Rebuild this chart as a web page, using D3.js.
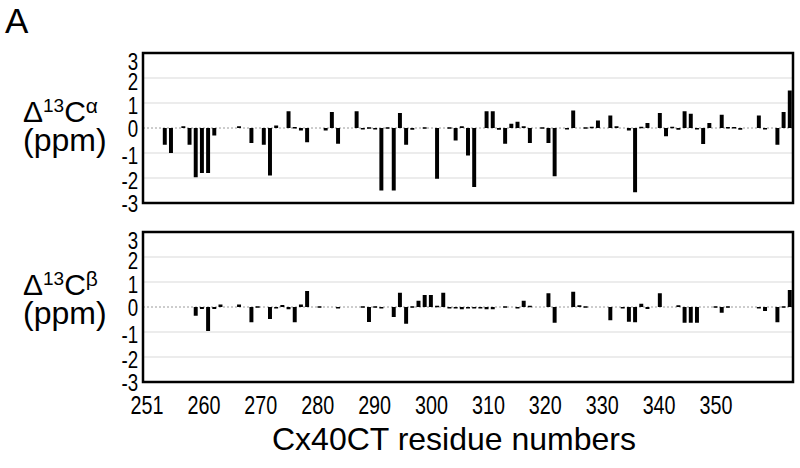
<!DOCTYPE html>
<html>
<head>
<meta charset="utf-8">
<script src="https://cdn.jsdelivr.net/npm/d3@7/dist/d3.min.js"></script>
<style>
  body { margin: 0; background: #fff; }
  svg text { font-family: "Liberation Sans", Arial, sans-serif; fill: #000; }
</style>
</head>
<body>
<svg id="chart" width="800" height="468"></svg>
<script>
// residue numbers, one bar slot each
var residues = d3.range(254, 359);

// chemical shift differences, ppm
var dCalpha = [
  0, 0, 0, -0.67, -1.0, 0, 0.07, -0.67, -1.97, -1.8,
  -1.8, -0.3, 0, 0, 0, 0.07, 0, -0.6, 0, -0.67,
  -1.9, 0.1, 0, 0.67, 0.04, -0.1, -0.57, 0, 0, -0.1,
  0.64, -0.63, 0, 0, 0.67, -0.03, 0.03, -0.03, -2.5, 0.03,
  -2.5, 0.6, -0.67, -0.07, 0, 0.03, 0, -2.03, 0, 0.03,
  -0.5, 0.07, -1.1, -2.36, 0, 0.67, 0.67, -0.07, -0.63, 0.17,
  0.25, 0.07, -0.6, 0, 0.03, -0.6, -1.93, 0, -0.03, 0.7,
  0, 0.03, 0.05, 0.3, 0, 0.5, 0.07, 0, -0.1, -2.57,
  0.05, 0.2, 0, 0.6, -0.33, 0.05, -0.07, 0.67, 0.57, -0.03,
  -0.64, 0.2, 0, 0.53, 0.04, 0.04, -0.07, 0, 0, 0.5,
  -0.05, 0, -0.67, 0.64, 1.5
];

var dCbeta = [
  0, 0, 0, 0, 0, 0, 0, 0, -0.35, -0.08,
  -0.96, -0.08, 0.1, 0, 0, 0.1, 0, -0.61, 0.03, 0,
  -0.48, -0.03, 0.08, -0.09, -0.61, 0.1, 0.64, 0, 0.03, 0,
  0, -0.04, 0, 0, 0, 0.03, -0.6, 0.03, -0.03, 0,
  -0.4, 0.57, -0.67, 0.03, 0.25, 0.48, 0.48, 0.05, 0.57, -0.04,
  -0.04, -0.09, -0.04, -0.04, -0.04, -0.09, -0.09, 0, 0.03, 0,
  -0.04, 0.25, 0.05, 0, 0, 0.55, -0.63, 0, 0, 0.61,
  0.07, 0.03, 0, 0, 0, -0.53, 0, -0.04, -0.59, -0.61,
  0.13, -0.08, 0, 0.55, 0, 0, 0.07, -0.63, -0.63, -0.63,
  0, 0, 0.03, -0.23, 0.03, 0, 0, 0, 0, -0.04,
  -0.16, 0, -0.61, 0.03, 0.68
];

var yTicks = [3, 2, 1, 0, -1, -2, -3];
var xTickLabels = ["251", "260", "270", "280", "290", "300", "310", "320", "330", "340", "350"];

var svg = d3.select("#chart");

var _left = 143, _right = 793;
var panels = [
  {values: dCalpha, top: 53, label: "α", titleY: 122},
  {values: dCbeta,  top: 232, label: "β", titleY: 295}
];
var _ph = 150;

var x = d3.scaleBand()
  .domain(residues)
  .range([_left, _right])
  .paddingInner(0.36)
  .paddingOuter(0.2);

svg.append("text")
  .attr("x", 5)
  .attr("y", 33)
  .style("font-size", "35px")
  .text("A");

// small vertical nudges of the tick labels, as laid out in the original
var tickNudge = {"3": 8, "2": 3, "1": 1.5, "0": 0, "-1": 1.5, "-2": 1.5, "-3": 0};

panels.forEach(function(p) {
  var y = d3.scaleLinear().domain([-3, 3]).range([p.top + _ph, p.top]);
  var g = svg.append("g");

  // light grid
  g.selectAll("line.grid")
    .data([2, 1, -1, -2])
    .enter().append("line")
    .attr("class", "grid")
    .attr("x1", _left).attr("x2", _right)
    .attr("y1", function(d) { return y(d); })
    .attr("y2", function(d) { return y(d); })
    .attr("stroke", "#d9d9d9")
    .attr("stroke-width", 1.2);

  g.append("line")
    .attr("x1", _left).attr("x2", _right)
    .attr("y1", y(0)).attr("y2", y(0))
    .attr("stroke", "#9a9a9a")
    .attr("stroke-width", 1)
    .attr("stroke-dasharray", "2,2");

  g.selectAll("rect.bar")
    .data(p.values)
    .enter().append("rect")
    .attr("class", "bar")
    .attr("x", function(d, i) { return x(residues[i]); })
    .attr("width", x.bandwidth())
    .attr("y", function(d) { return y(Math.max(0, d)); })
    .attr("height", function(d) { return Math.max(Math.abs(y(d) - y(0)), d === 0 ? 0 : 1.5); })
    .attr("fill", "#000");

  g.append("rect")
    .attr("x", _left).attr("y", p.top)
    .attr("width", _right - _left).attr("height", _ph)
    .attr("fill", "none")
    .attr("stroke", "#000")
    .attr("stroke-width", 2.5);

  var ay = d3.axisLeft(y)
    .tickValues(yTicks)
    .tickFormat(function(d) { return String(d); })
    .tickSize(0)
    .tickPadding(5);
  var axg = g.append("g")
    .attr("transform", `translate(${_left - 1}, 0)`)
    .call(ay);
  axg.select(".domain").remove();
  // the original digits are tall and narrow
  axg.selectAll("text")
    .style("font-size", "24px")
    .style("font-family", '"Liberation Sans", Arial, sans-serif')
    .attr("dy", null)
    .attr("y", function(d) { return 8.6 + tickNudge[String(d)]; })
    .attr("transform", "scale(0.78,1)");

  // panel title
  var t = g.append("text")
    .attr("x", 23)
    .attr("y", p.titleY)
    .style("font-size", "30px");
  t.append("tspan").text("Δ");
  t.append("tspan").attr("dy", -10).style("font-size", "19px").text("13");
  t.append("tspan").attr("dy", 10).text("C");
  t.append("tspan").attr("dy", -9).style("font-size", "21px").text(p.label);

  g.append("text")
    .attr("x", 23)
    .attr("y", p.titleY + 29)
    .style("font-size", "32px")
    .text("(ppm)");
});

// residue labels (evenly spread, as typed in the original)
var xl = d3.scalePoint()
  .domain(xTickLabels)
  .range([147, 716]);

svg.append("g")
  .selectAll("text")
  .data(xTickLabels)
  .enter().append("text")
  .attr("transform", function(d) { return `translate(${xl(d)}, 414) scale(0.76,1)`; })
  .attr("text-anchor", "middle")
  .style("font-size", "26px")
  .text(function(d) { return d; });

svg.append("text")
  .attr("x", 454)
  .attr("y", 450)
  .attr("text-anchor", "middle")
  .style("font-size", "32px")
  .text("Cx40CT residue numbers");
</script>
</body>
</html>
